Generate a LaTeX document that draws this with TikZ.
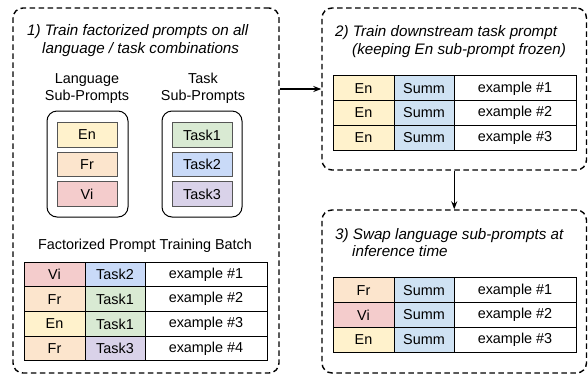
\documentclass[tikz,border=0pt]{standalone}
\usepackage{fontspec}
\setmainfont{Liberation Sans}
\usetikzlibrary{arrows.meta}
\definecolor{cEn}{HTML}{FFF2CC}
\definecolor{cFr}{HTML}{FCE5CD}
\definecolor{cVi}{HTML}{F4CCCC}
\definecolor{cTa}{HTML}{D9EAD3}
\definecolor{cTb}{HTML}{C9DAF8}
\definecolor{cTc}{HTML}{D9D2E9}
\definecolor{cSu}{HTML}{CFE2F3}
\definecolor{cBd}{HTML}{555555}
\begin{document}
\begin{tikzpicture}[x=1pt,y=-1pt,
  every node/.style={font=\fontsize{14.4}{16}\selectfont, text=black},
  ttl/.style={anchor=base west, inner sep=0pt, font=\fontsize{15.2}{17}\selectfont\itshape},
  hdr/.style={anchor=base, inner sep=0pt},
  dbox/.style={draw, line width=1.4pt, dash pattern=on 5.5pt off 3.5pt, rounded corners=10pt, inner sep=0pt},
  holder/.style={draw, line width=1pt, rounded corners=10pt, inner sep=0pt, minimum width=80pt, minimum height=106pt},
  sub/.style={draw=cBd, line width=0.9pt, inner sep=0pt, minimum width=60pt, minimum height=24.5pt},
  cell/.style={draw, line width=1pt, inner sep=0pt, outer sep=0pt, minimum height=24.7pt},
  ca/.style={cell, minimum width=61pt},
  cb/.style={cell, minimum width=60pt},
  cc/.style={cell, minimum width=122pt, fill=white},
  arr/.style={line width=1.2pt, -{Stealth[length=8pt,width=6pt]}}
]
\useasboundingbox (0,0) rectangle (588,376);
\fill[white] (0,0) rectangle (588,376);

% dashed boxes
\node[dbox, minimum width=266pt, minimum height=365pt] (b1) at (146,190.5) {};
\node[dbox, minimum width=264.5pt, minimum height=162pt] (b2) at (454.25,89) {};
\node[dbox, minimum width=264.5pt, minimum height=163pt] (b3) at (454.25,291.5) {};

\draw[arr] (b1.east |- b2.west) -- (b2.west);
\draw[arr] (b2.south) -- (b3.north);

% box 1 titles
\node[ttl] (t1a) at (27,35.5) {1) Train factorized prompts on all};
\node[ttl] (t1b) at (42,53) {language / task combinations};

\node[hdr] (h1a) at (87,83) {Language};
\node[hdr] (h1b) at (87,100.5) {Sub-Prompts};
\node[hdr] (h2a) at (203,83) {Task};
\node[hdr] (h2b) at (203,100.5) {Sub-Prompts};

\node[holder, minimum width=81pt] (lang) at (87.5,164) {};
\node[holder] (task) at (202,164) {};

\node[sub, fill=cEn] (sEn) at (87,135) {En};
\node[sub, fill=cFr] (sFr) at (87,164.5) {Fr};
\node[sub, fill=cVi] (sVi) at (87,194) {Vi};
\node[sub, fill=cTa] (sT1) at (202,135) {Task1};
\node[sub, fill=cTb] (sT2) at (202,164.5) {Task2};
\node[sub, fill=cTc] (sT3) at (202,194) {Task3};

\node[hdr] (bh) at (145,249) {Factorized Prompt Training Batch};

% batch table
\node[ca, fill=cVi] (a11) at (54.5,274.4) {Vi};
\node[cb, fill=cTb] (a12) at (115,274.4) {Task2};
\node[cc] (a13) at (206,274.4) {example \#1};
\node[ca, fill=cFr] (a21) at (54.5,299.1) {Fr};
\node[cb, fill=cTa] (a22) at (115,299.1) {Task1};
\node[cc] (a23) at (206,299.1) {example \#2};
\node[ca, fill=cEn] (a31) at (54.5,323.9) {En};
\node[cb, fill=cTa] (a32) at (115,323.9) {Task1};
\node[cc] (a33) at (206,323.9) {example \#3};
\node[ca, fill=cFr] (a41) at (54.5,348.6) {Fr};
\node[cb, fill=cTc] (a42) at (115,348.6) {Task3};
\node[cc] (a43) at (206,348.6) {example \#4};

% box 2
\node[ttl] (t2a) at (335,36) {2) Train downstream task prompt};
\node[ttl] (t2b) at (352,54.5) {(keeping En sub-prompt frozen)};

\node[ca, fill=cEn] (b11) at (363.5,88.3) {En};
\node[cb, fill=cSu] (b12) at (424,88.3) {Summ};
\node[cc] (b13) at (515,88.3) {example \#1};
\node[ca, fill=cEn] (b21) at (363.5,113) {En};
\node[cb, fill=cSu] (b22) at (424,113) {Summ};
\node[cc] (b23) at (515,113) {example \#2};
\node[ca, fill=cEn] (b31) at (363.5,137.7) {En};
\node[cb, fill=cSu] (b32) at (424,137.7) {Summ};
\node[cc] (b33) at (515,137.7) {example \#3};

% box 3
\node[ttl] (t3a) at (335,239) {3) Swap language sub-prompts at};
\node[ttl] (t3b) at (352,256.5) {inference time};

\node[ca, fill=cFr] (c11) at (363.5,290.3) {Fr};
\node[cb, fill=cSu] (c12) at (424,290.3) {Summ};
\node[cc] (c13) at (515,290.3) {example \#1};
\node[ca, fill=cVi] (c21) at (363.5,315) {Vi};
\node[cb, fill=cSu] (c22) at (424,315) {Summ};
\node[cc] (c23) at (515,315) {example \#2};
\node[ca, fill=cEn] (c31) at (363.5,339.7) {En};
\node[cb, fill=cSu] (c32) at (424,339.7) {Summ};
\node[cc] (c33) at (515,339.7) {example \#3};
\end{tikzpicture}
\end{document}
